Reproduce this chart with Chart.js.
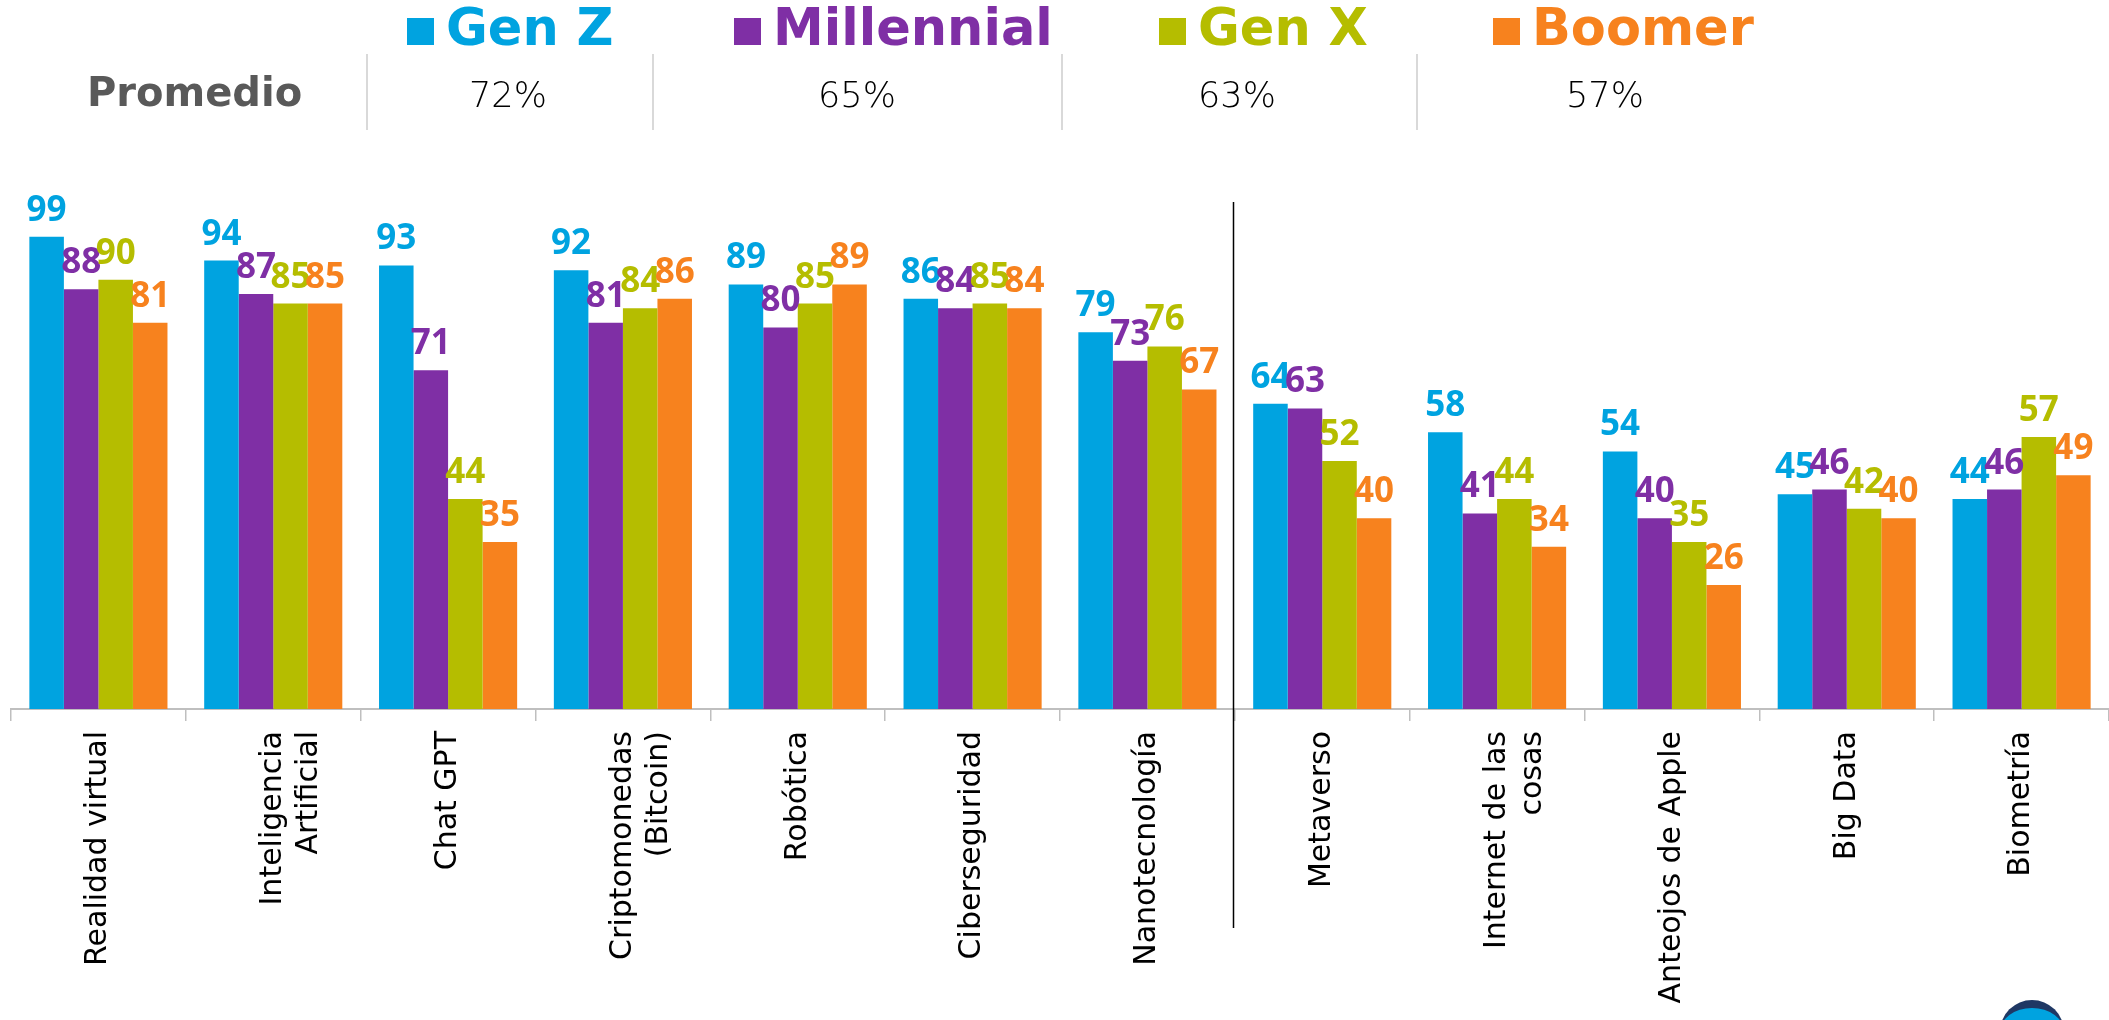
<!DOCTYPE html>
<html><head><meta charset="utf-8">
<script src="https://cdn.jsdelivr.net/npm/chart.js@4.4.1/dist/chart.umd.min.js"></script>
<style>
html,body{margin:0;padding:0;background:#fff;width:2109px;height:1020px;overflow:hidden;}
#wrap{position:relative;width:2109px;height:1020px;}
#c{position:absolute;left:0;top:0;}
.lg{position:absolute;top:3px;font-family:"DejaVu Sans",sans-serif;font-weight:bold;font-size:51px;line-height:50px;white-space:nowrap;display:flex;align-items:center;}
.lg .sq{display:inline-block;width:27px;height:27px;margin-right:12px;margin-top:6px;}
.avg{position:absolute;top:78px;font-family:"DejaVu Sans",sans-serif;font-weight:200;font-size:35px;line-height:35px;color:#000;transform:translateX(-50%);white-space:nowrap;}
.prom{position:absolute;left:87px;top:72px;font-family:"DejaVu Sans",sans-serif;font-weight:bold;font-size:40px;line-height:40px;color:#595959;}
.sep{position:absolute;top:54px;height:76px;width:2px;background:#d9d9d9;}
#logo{position:absolute;left:2000px;top:1000px;width:64px;height:64px;border-radius:50%;background:#00a3e0;border-top:8px solid #1f3864;box-sizing:border-box;}
</style>
</head><body>
<div id="wrap">
<canvas id="c" width="2109" height="1020"></canvas>
<div class="prom">Promedio</div>
<div id="logo"></div>
</div>
<script>
const categories = ["Realidad virtual", ["Inteligencia","Artificial"], "Chat GPT", ["Criptomonedas","(Bitcoin)"], "Robótica", "Ciberseguridad", "Nanotecnología", "Metaverso", ["Internet de las","cosas"], "Anteojos de Apple", "Big Data", "Biometría"];
const seriesNames = ["Gen Z", "Millennial", "Gen X", "Boomer"];
const genZ       = [99, 94, 93, 92, 89, 86, 79, 64, 58, 54, 45, 44];
const millennial = [88, 87, 71, 81, 80, 84, 73, 63, 41, 40, 46, 46];
const genX       = [90, 85, 44, 84, 85, 85, 76, 52, 44, 35, 42, 57];
const boomer     = [81, 85, 35, 86, 89, 84, 67, 40, 34, 26, 40, 49];
const averages   = ["72%", "65%", "63%", "57%"];

const colors = ["#00a3e0", "#7f2fa5", "#b5bd00", "#f7821e"];
const FONT = '"DejaVu Sans", sans-serif';
const LABEL_FONT = '"Open Sans", sans-serif';

// Header (legend + averages)
const wrap = document.getElementById('wrap');
const legendLeft = [407, 734, 1159, 1493];
const avgCenter = [508, 857, 1237, 1605];
const sepX = [366, 652, 1061, 1416];
seriesNames.forEach((n, i) => {
  const d = document.createElement('div');
  d.className = 'lg';
  d.style.left = legendLeft[i] + 'px';
  d.style.color = colors[i];
  const s = document.createElement('span'); s.className = 'sq'; s.style.background = colors[i];
  d.appendChild(s);
  d.appendChild(document.createTextNode(n));
  wrap.appendChild(d);
  const a = document.createElement('div');
  a.className = 'avg'; a.style.left = avgCenter[i] + 'px'; a.textContent = averages[i];
  wrap.appendChild(a);
  const sp = document.createElement('div');
  sp.className = 'sep'; sp.style.left = sepX[i] + 'px';
  wrap.appendChild(sp);
});

const labelPlugin = {
  id: 'barLabels',
  afterDatasetsDraw(chart) {
    const ctx = chart.ctx;
    ctx.save();
    ctx.font = 'bold 35px ' + LABEL_FONT;
    ctx.textAlign = 'center';
    ctx.textBaseline = 'alphabetic';
    chart.data.datasets.forEach((ds, di) => {
      const meta = chart.getDatasetMeta(di);
      ctx.fillStyle = colors[di];
      meta.data.forEach((bar, i) => {
        ctx.fillText(String(ds.data[i]), bar.x, bar.y - 16);
      });
    });
    // divider between Nanotecnología and Metaverso
    const xs = chart.scales.x;
    const xm = (xs.getPixelForValue(6) + xs.getPixelForValue(7)) / 2;
    ctx.strokeStyle = '#000';
    ctx.lineWidth = 1.5;
    ctx.beginPath();
    ctx.moveTo(Math.round(xm) - 1.5, 202);
    ctx.lineTo(Math.round(xm) - 1.5, 928);
    ctx.stroke();
    ctx.restore();
  }
};

const datasets = [genZ, millennial, genX, boomer].map((d, i) => ({
  label: seriesNames[i], data: d, backgroundColor: colors[i], borderWidth: 0,
  categoryPercentage: 0.79, barPercentage: 1.0
}));

new Chart(document.getElementById('c'), {
  type: 'bar',
  data: { labels: categories, datasets },
  options: {
    responsive: false, animation: false,
    layout: { padding: { top: 232, left: 11, right: 0, bottom: 0 } },
    plugins: { legend: { display: false }, tooltip: { enabled: false } },
    scales: {
      y: { display: false, min: 0, max: 100 },
      x: {
        afterFit(scale) { scale.height = 311; },
        grid: { display: true, drawOnChartArea: false, drawTicks: true, tickLength: 12, color: '#bfbfbf', lineWidth: 1.5, offset: true },
        border: { display: true, color: '#bfbfbf', width: 2 },
        ticks: { maxRotation: 90, minRotation: 90, autoSkip: false, padding: 10, color: '#000', font: { family: FONT, size: 30 } }
      }
    }
  },
  plugins: [labelPlugin]
});
</script>
</body></html>
